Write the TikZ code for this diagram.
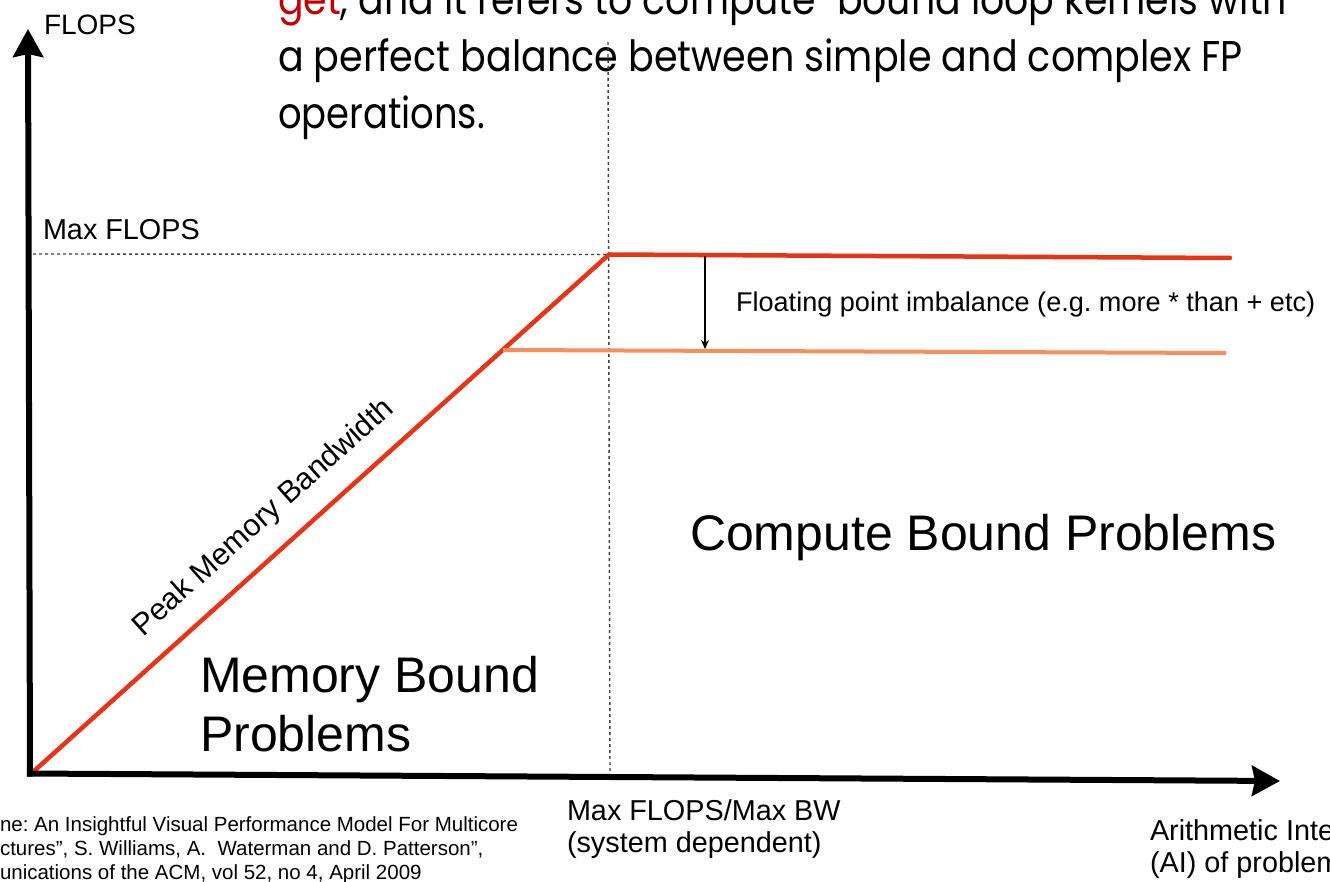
\documentclass[tikz,border=0pt]{standalone}
\usepackage{fontspec}
\setmainfont{Liberation Sans}
\newfontfamily\gothic{Poppins}
\usetikzlibrary{arrows.meta}
\definecolor{roofred}{RGB}{232,52,22}
\definecolor{rooforange}{RGB}{248,142,92}
\definecolor{getred}{RGB}{192,0,0}
\begin{document}
\frenchspacing
\begin{tikzpicture}[x=1pt,y=-1pt,
  lbl/.style={inner sep=0pt, outer sep=0pt, anchor=base west, font=\fontsize{28.8}{34}\selectfont},
  biglbl/.style={lbl, font=\fontsize{50}{58}\selectfont},
  citelbl/.style={lbl, font=\fontsize{20.5}{24}\selectfont},
  toplbl/.style={lbl, font=\gothic\fontsize{43}{50}\selectfont},
  axisline/.style={line width=6pt, -{Stealth[length=28pt,width=30pt,inset=3pt]}},
  roofline/.style={line width=4.5pt, roofred, line cap=round},
  imbline/.style={line width=4pt, rooforange},
  dotline/.style={line width=1.4pt, black!75, dash pattern=on 3pt off 3pt},
  smallarrow/.style={line width=1.2pt, -{Stealth[length=9pt,width=8pt]}}
]
\useasboundingbox (0,0) rectangle (1330,882);
\clip (0,0) rectangle (1330,882);

% key points
\coordinate (O) at (31.5,773.3);
\coordinate (K) at (609,254.5);
\coordinate (Rend) at (1230,258);
\coordinate (Ostart) at (503,350);
\coordinate (Oend) at (1226,353);
\coordinate (yaxS) at (30,776.5);
\coordinate (yaxE) at (28,29);
\coordinate (xaxS) at (27,773.5);
\coordinate (xaxE) at (1280,781);
\coordinate (dvT) at (608,42);
\coordinate (dvB) at (610,779);
\coordinate (dhL) at (33,254);
\coordinate (aT) at (705,256.5);
\coordinate (aB) at (705,349);

% top text (cut at the top edge)
\node[toplbl] (t1) at (278,15) {\resizebox{1009pt}{\height}{\textcolor{getred}{get}, and it refers to compute-bound loop kernels with}};
\node[toplbl] (t2) at (278,72) {\resizebox{965pt}{\height}{a perfect balance between simple and complex FP}};
\node[toplbl] (t3) at (278,128.5) {\resizebox{207pt}{\height}{operations.}};

% dotted guides
\draw[dotline] (dhL) -- (K);
\draw[dotline] (dvT) -- (dvB);

% roofline
\draw[roofline] (O) -- (K) -- (Rend);
\draw[imbline] (Ostart) -- (Oend);
\draw[smallarrow] (aT) -- (aB);

% axes
\draw[axisline] (yaxS) -- (yaxE);
\draw[axisline] (xaxS) -- (xaxE);

% labels
\node[lbl, font=\fontsize{28}{34}\selectfont] (ylab) at (44,35) {FLOPS};
\node[lbl] (maxflops) at (43,240) {Max FLOPS};
\node[lbl, font=\fontsize{27.1}{32}\selectfont] (imb) at (736,312) {Floating point imbalance (e.g. more * than + etc)};
\node[biglbl] (cbp) at (690,550) {Compute Bound Problems};
\node[biglbl] (mbp1) at (200,692) {Memory Bound};
\node[biglbl] (mbp2) at (200,751) {Problems};
\node[lbl, font=\fontsize{30.5}{36}\selectfont, rotate=41.9, anchor=center] (pmb) at (264,518) {Peak Memory Bandwidth};
\node[lbl] (ridge1) at (567,820) {Max FLOPS/Max BW};
\node[lbl] (ridge2) at (567,852) {(system dependent)};
\node[lbl] (ai1) at (1150,840) {Arithmetic Intensity};
\node[lbl] (ai2) at (1150,872) {(AI) of problem};

% citation (cut at the left and bottom edges)
\node[citelbl] (c1) at (0,831) {ne: An Insightful Visual Performance Model For Multicore};
\node[citelbl] (c2) at (0,855) {ctures'', S. Williams, A.\ \ Waterman and D. Patterson'',};
\node[citelbl] (c3) at (0,879) {unications of the ACM, vol 52, no 4, April 2009};
\end{tikzpicture}
\end{document}
